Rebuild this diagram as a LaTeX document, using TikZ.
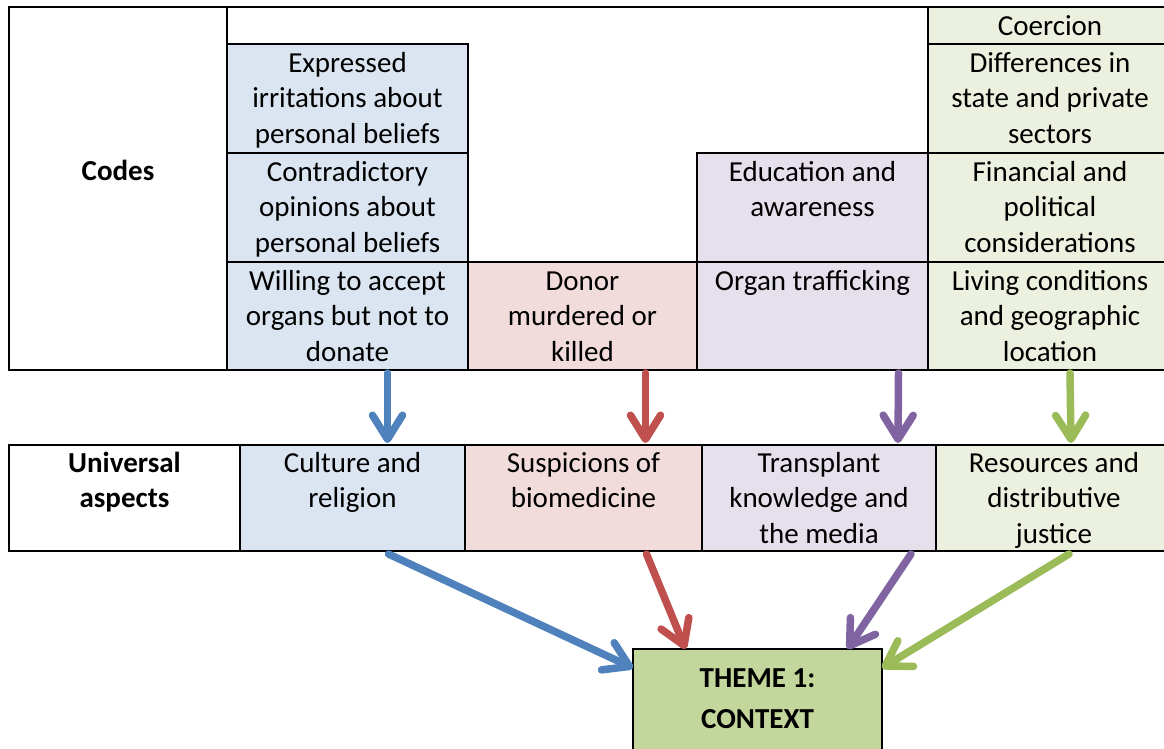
\documentclass[tikz,border=0pt]{standalone}
\usepackage{fontspec}
\setmainfont{Carlito}
\usetikzlibrary{arrows.meta,calc}
\definecolor{cblue}{HTML}{DBE5F1}
\definecolor{cred}{HTML}{F2DCDB}
\definecolor{cpurp}{HTML}{E5E0EC}
\definecolor{cgreen}{HTML}{EBF1DE}
\definecolor{ctheme}{HTML}{C3D69B}
\definecolor{ablue}{HTML}{4F81BD}
\definecolor{ared}{HTML}{C0504D}
\definecolor{apurp}{HTML}{8064A2}
\definecolor{agreen}{HTML}{9BBB59}
\newcommand{\mycell}[6]{%
  \node[cell, fill=#2, minimum width={(#5-#3)*1pt}, minimum height={(#6-#4)*1pt}] (#1) at (#3,#4) {};}
% label: first baseline #2 pt below the top of cell #1 (strut height 25pt)
\newcommand{\mylabel}[3]{%
  \node[lbl] (t#1) at ($(#1.north)+(0,#2-25)$) {\strut #3};}
\begin{document}
\begin{tikzpicture}[x=1pt,y=-1pt,
  cell/.style={draw=black, line width=2.2pt, anchor=north west, inner sep=0pt, outer sep=0pt},
  lbl/.style={anchor=north, align=center, inner sep=0pt, font=\fontsize{29}{35.7}\selectfont},
  arr/.style={line width=7.5pt, line cap=round, -{Straight Barb[length=24pt, width=30pt, round]}}]
\useasboundingbox (0,0) rectangle (1164,748);
% Codes table
\mycell{codes}{white}{9}{7}{227}{370}
\mycell{exp}{cblue}{227}{44}{468}{153}
\mycell{con}{cblue}{227}{153}{468}{262}
\mycell{wil}{cblue}{227}{262}{468}{370}
\mycell{don}{cred}{468}{262}{697}{370}
\mycell{edu}{cpurp}{697}{153}{928}{262}
\mycell{org}{cpurp}{697}{262}{928}{370}
\mycell{coe}{cgreen}{928}{7}{1172}{44}
\mycell{dif}{cgreen}{928}{44}{1172}{153}
\mycell{fin}{cgreen}{928}{153}{1172}{262}
\mycell{liv}{cgreen}{928}{262}{1172}{370}
\draw[line width=2.2pt] (codes.north east) -- (coe.north west);
\node[lbl, anchor=base, font=\fontsize{29}{35.7}\selectfont\bfseries] (tcodes) at ($(codes.north)+(0,173)$) {Codes};
\mylabel{exp}{28}{Expressed\\irritations about\\personal beliefs}
\mylabel{con}{28}{Contradictory\\opinions about\\personal beliefs}
\mylabel{wil}{28}{Willing to accept\\organs but not to\\donate}
\mylabel{don}{28}{Donor\\murdered or\\killed}
\mylabel{edu}{28}{Education and\\awareness}
\mylabel{org}{28}{Organ trafficking}
\mylabel{coe}{28}{Coercion}
\mylabel{dif}{28}{Differences in\\state and private\\sectors}
\mylabel{fin}{28}{Financial and\\political\\considerations}
\mylabel{liv}{28}{Living conditions\\and geographic\\location}
% Universal aspects row
\mycell{ua}{white}{9}{445}{240}{551}
\mycell{cul}{cblue}{240}{445}{465}{551}
\mycell{sus}{cred}{465}{445}{702}{551}
\mycell{tra}{cpurp}{702}{445}{936}{551}
\mycell{res}{cgreen}{936}{445}{1172}{551}
\node[lbl, font=\fontsize{29}{35.7}\selectfont\bfseries] (tua) at ($(ua.north)+(0,27-25)$) {\strut Universal\\aspects};
\mylabel{cul}{27}{Culture and\\religion}
\mylabel{sus}{27}{Suspicions of\\biomedicine}
\mylabel{tra}{27}{Transplant\\knowledge and\\the media}
\mylabel{res}{27}{Resources and\\distributive\\justice}
% Theme box
\node[draw=black, line width=1.3pt, fill=ctheme, anchor=north west, inner sep=0pt, outer sep=0pt,
      minimum width=249pt, minimum height=120pt] (theme) at (633,649) {};
\node[lbl, font=\fontsize{29}{41}\selectfont\bfseries] (ttheme) at ($(theme.north)+(0,38-28.7)$) {\strut THEME 1:\\CONTEXT};
% arrows codes -> aspects
\draw[arr, ablue] ([xshift=40pt,yshift=-3pt]wil.south) -- ([xshift=35pt,yshift=2pt]cul.north);
\draw[arr, ared] ([xshift=63pt,yshift=-3pt]don.south) -- ([xshift=62pt,yshift=2pt]sus.north);
\draw[arr, apurp] ([xshift=86pt,yshift=-3pt]org.south) -- ([xshift=79pt,yshift=2pt]tra.north);
\draw[arr, agreen] ([xshift=20pt,yshift=-3pt]liv.south) -- ([xshift=17pt,yshift=2pt]res.north);
% arrows aspects -> theme
\draw[arr, ablue] ([xshift=36pt,yshift=-3pt]cul.south) -- ([yshift=-19pt]theme.north west);
\draw[arr, ared] ([xshift=63pt,yshift=-3pt]sus.south) -- ([xshift=-72pt]theme.north);
\draw[arr, apurp] ([xshift=92pt,yshift=-3pt]tra.south) -- ([xshift=90pt]theme.north);
\draw[arr, agreen] ([xshift=15pt,yshift=-3pt]res.south) -- ([yshift=-19pt]theme.north east);
\end{tikzpicture}
\end{document}
